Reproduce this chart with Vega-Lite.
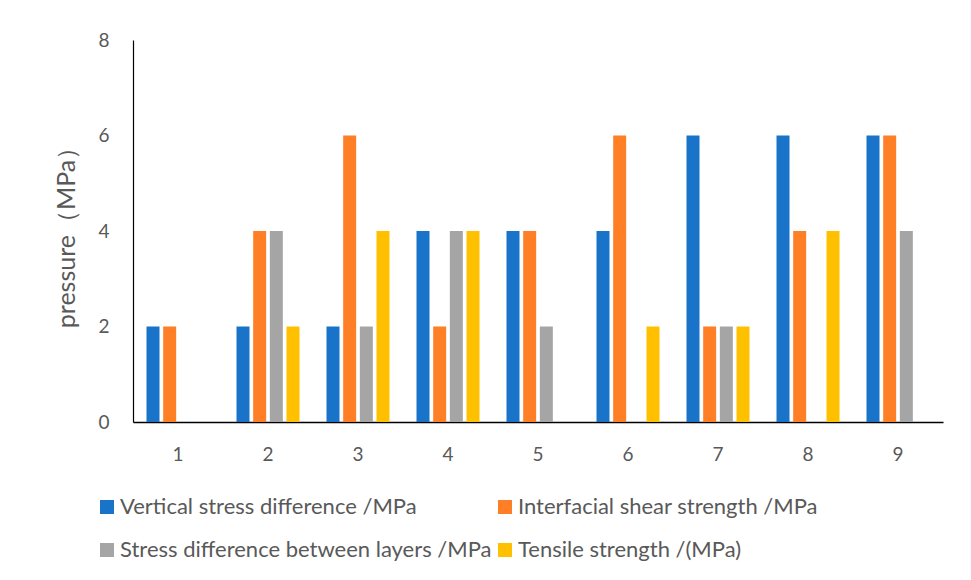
{
  "$schema": "https://vega.github.io/schema/vega-lite/v6.json",
  "width": 810,
  "height": 382,
  "autosize": {"type": "none"},
  "padding": {"left": 133, "top": 40, "right": 28, "bottom": 158},
  "background": "white",
  "data": {"values": [
    {"g": "1", "s": "Vertical stress difference /MPa", "v": 2},
    {"g": "1", "s": "Interfacial shear strength /MPa", "v": 2},
    {"g": "1", "s": "Stress difference between layers /MPa", "v": 0},
    {"g": "1", "s": "Tensile strength /(MPa)", "v": 0},
    {"g": "2", "s": "Vertical stress difference /MPa", "v": 2},
    {"g": "2", "s": "Interfacial shear strength /MPa", "v": 4},
    {"g": "2", "s": "Stress difference between layers /MPa", "v": 4},
    {"g": "2", "s": "Tensile strength /(MPa)", "v": 2},
    {"g": "3", "s": "Vertical stress difference /MPa", "v": 2},
    {"g": "3", "s": "Interfacial shear strength /MPa", "v": 6},
    {"g": "3", "s": "Stress difference between layers /MPa", "v": 2},
    {"g": "3", "s": "Tensile strength /(MPa)", "v": 4},
    {"g": "4", "s": "Vertical stress difference /MPa", "v": 4},
    {"g": "4", "s": "Interfacial shear strength /MPa", "v": 2},
    {"g": "4", "s": "Stress difference between layers /MPa", "v": 4},
    {"g": "4", "s": "Tensile strength /(MPa)", "v": 4},
    {"g": "5", "s": "Vertical stress difference /MPa", "v": 4},
    {"g": "5", "s": "Interfacial shear strength /MPa", "v": 4},
    {"g": "5", "s": "Stress difference between layers /MPa", "v": 2},
    {"g": "5", "s": "Tensile strength /(MPa)", "v": 0},
    {"g": "6", "s": "Vertical stress difference /MPa", "v": 4},
    {"g": "6", "s": "Interfacial shear strength /MPa", "v": 6},
    {"g": "6", "s": "Stress difference between layers /MPa", "v": 0},
    {"g": "6", "s": "Tensile strength /(MPa)", "v": 2},
    {"g": "7", "s": "Vertical stress difference /MPa", "v": 6},
    {"g": "7", "s": "Interfacial shear strength /MPa", "v": 2},
    {"g": "7", "s": "Stress difference between layers /MPa", "v": 2},
    {"g": "7", "s": "Tensile strength /(MPa)", "v": 2},
    {"g": "8", "s": "Vertical stress difference /MPa", "v": 6},
    {"g": "8", "s": "Interfacial shear strength /MPa", "v": 4},
    {"g": "8", "s": "Stress difference between layers /MPa", "v": 0},
    {"g": "8", "s": "Tensile strength /(MPa)", "v": 4},
    {"g": "9", "s": "Vertical stress difference /MPa", "v": 6},
    {"g": "9", "s": "Interfacial shear strength /MPa", "v": 6},
    {"g": "9", "s": "Stress difference between layers /MPa", "v": 4},
    {"g": "9", "s": "Tensile strength /(MPa)", "v": 0}
  ]},
  "mark": {"type": "bar"},
  "encoding": {
    "x": {
      "field": "g", "type": "nominal", "sort": null,
      "scale": {"paddingInner": 0.3, "paddingOuter": 0.15},
      "axis": {"title": null, "labelAngle": 0, "ticks": false, "domainColor": "#000000", "domainWidth": 1.5,
               "labelPadding": 23, "labelFontSize": 19, "labelColor": "#595959", "labelFont": "Lato"}
    },
    "xOffset": {
      "field": "s", "type": "nominal",
      "sort": ["Vertical stress difference /MPa", "Interfacial shear strength /MPa", "Stress difference between layers /MPa", "Tensile strength /(MPa)"],
      "scale": {"paddingInner": 0.22, "paddingOuter": 0}
    },
    "y": {
      "field": "v", "type": "quantitative",
      "scale": {"domain": [0, 8]},
      "axis": {"values": [0, 2, 4, 6, 8], "grid": false, "ticks": false, "domainColor": "#000000", "domainWidth": 1.2,
               "labelPadding": 24, "labelFontSize": 19, "labelColor": "#595959", "labelFont": "Lato",
               "title": "pressure（MPa）", "titleFont": "Lato", "titleFontSize": 25, "titleFontWeight": "normal",
               "titleColor": "#595959", "titlePadding": 18}
    },
    "color": {
      "field": "s", "type": "nominal",
      "sort": ["Vertical stress difference /MPa", "Interfacial shear strength /MPa", "Stress difference between layers /MPa", "Tensile strength /(MPa)"],
      "scale": {"range": ["#1873C9", "#FF7F27", "#A5A5A5", "#FFC000"]},
      "legend": {
        "title": null, "orient": "none", "legendX": -37, "legendY": 456,
        "columns": 2, "direction": "horizontal", "columnPadding": 2, "rowPadding": 21,
        "symbolType": "square", "symbolSize": 196, "symbolStrokeWidth": 0,
        "labelFont": "Lato", "labelFontSize": 22, "labelColor": "#595959", "labelLimit": 600, "labelOffset": 2
      }
    }
  },
  "config": {"view": {"stroke": null}}
}
